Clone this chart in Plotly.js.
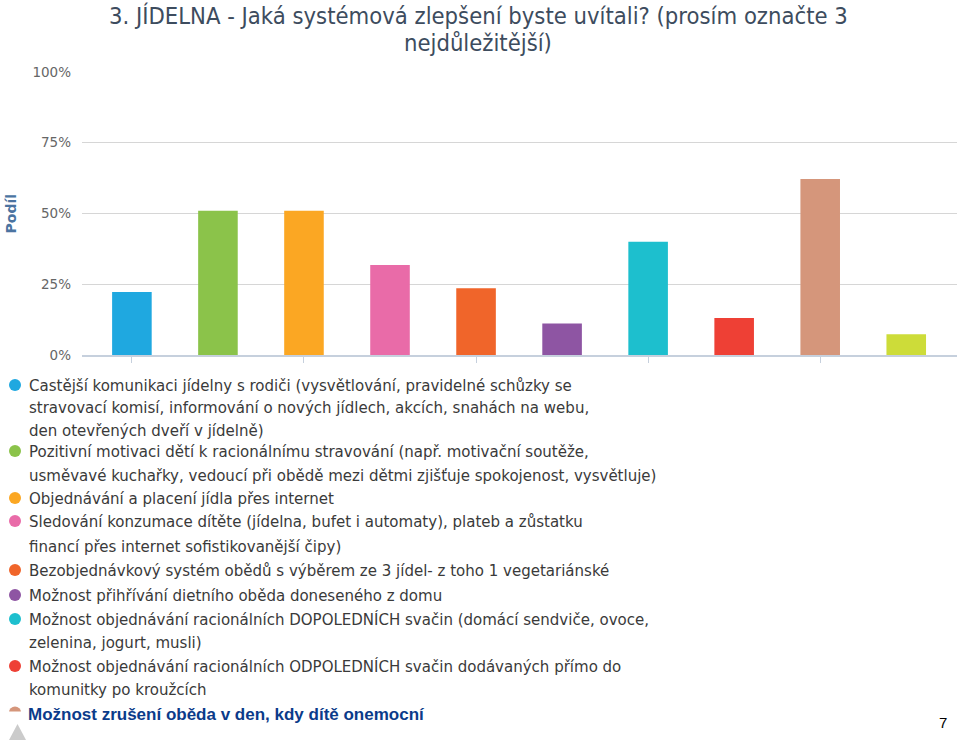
<!DOCTYPE html>
<html>
<head>
<meta charset="utf-8">
<script src="https://cdn.plot.ly/plotly-3.0.1.min.js"></script>
<style>
  html, body { margin: 0; padding: 0; background: #fff; }
  #chart { width: 959px; height: 742px; }
</style>
</head>
<body>
<div id="chart"></div>
<script>
// ---- data ----
const titleLines = [
  "3. JÍDELNA - Jaká systémová zlepšení byste uvítali? (prosím označte 3",
  "nejdůležitější)"
];
const yAxisTitle = "Podíl";
const categoryLines = [
  ["Castější komunikaci jídelny s rodiči (vysvětlování, pravidelné schůzky se",
   "stravovací komisí, informování o nových jídlech, akcích, snahách na webu,",
   "den otevřených dveří v jídelně)"],
  ["Pozitivní motivaci dětí k racionálnímu stravování (např. motivační soutěže,",
   "usměvavé kuchařky, vedoucí při obědě mezi dětmi zjišťuje spokojenost, vysvětluje)"],
  ["Objednávání a placení jídla přes internet"],
  ["Sledování konzumace dítěte (jídelna, bufet i automaty), plateb a zůstatku",
   "financí přes internet sofistikovanější čipy)"],
  ["Bezobjednávkový systém obědů s výběrem ze 3 jídel- z toho 1 vegetariánské"],
  ["Možnost přihřívání dietního oběda doneseného z domu"],
  ["Možnost objednávání racionálních DOPOLEDNÍCH svačin (domácí sendviče, ovoce,",
   "zelenina, jogurt, musli)"],
  ["Možnost objednávání racionálních ODPOLEDNÍCH svačin dodávaných přímo do",
   "komunitky po kroužcích"],
  ["Možnost zrušení oběda v den, kdy dítě onemocní"],
  ["Jiné"]
];
const categories = categoryLines.map(l => l.join(" "));
const shares = [22.3, 51.0, 51.0, 31.8, 23.6, 11.1, 40.0, 13.1, 62.2, 7.3];
const colors = ["#1fa8e0", "#8bc34a", "#fba723", "#e96ba8", "#f0652a",
                "#8e55a3", "#1dbfce", "#ee4035", "#d5967b", "#cddc39"];
const yTicks = [0, 25, 50, 75, 100];
const yTickText = yTicks.map(v => v + "%");
const slideNumber = "7";

// ---- layout helpers (pixel -> paper) ----
const W = 959, H = 742;
const M = { l: 82, r: 2, t: 72, b: 387 };
const PW = W - M.l - M.r, PH = H - M.t - M.b;
const xp = px => (px - M.l) / PW;
const yp = py => (H - M.b - py) / PH;

// legend line centres (px) for the visible legend items
const legendLineY = [385, 407, 430, 451, 475, 498, 521, 546, 570, 595, 619, 642, 666, 689];
const visibleLegendItems = 8;

const annotations = [];
const shapes = [];

// title
const titleY = [16, 43];
titleLines.forEach((t, i) => annotations.push({
  text: t, xref: "paper", yref: "paper", x: xp(478), y: yp(titleY[i]),
  xanchor: "center", yanchor: "middle", showarrow: false,
  font: { family: "DejaVu Sans Condensed, DejaVu Sans", size: 23.6, color: "#3d4c5e" }
}));

// y axis title
annotations.push({
  text: "<b>" + yAxisTitle + "</b>", xref: "paper", yref: "paper",
  x: xp(10), y: 0.5, textangle: -90, xanchor: "center", yanchor: "middle",
  showarrow: false, font: { family: "DejaVu Sans", size: 14, color: "#4b74a1" }
});

// legend
let li = 0;
for (let k = 0; k < visibleLegendItems; k++) {
  const c0 = legendLineY[li];
  shapes.push({
    type: "circle", xref: "paper", yref: "paper",
    x0: xp(9), x1: xp(21), y0: yp(c0 + 6), y1: yp(c0 - 6),
    fillcolor: colors[k], line: { width: 0 }
  });
  categoryLines[k].forEach(line => {
    annotations.push({
      text: line, xref: "paper", yref: "paper", x: xp(27), y: yp(legendLineY[li]),
      xanchor: "left", yanchor: "middle", showarrow: false,
      font: { family: "DejaVu Sans Condensed, Open Sans", size: 16.7, color: "#3a3a3a" }
    });
    li++;
  });
}
// partially hidden 9th legend marker
shapes.push({
  type: "circle", xref: "paper", yref: "paper",
  x0: xp(9), x1: xp(21), y0: yp(718), y1: yp(706.5),
  fillcolor: colors[8], line: { width: 0 }
});
shapes.push({
  type: "rect", xref: "paper", yref: "paper",
  x0: xp(6), x1: xp(24), y0: yp(722), y1: yp(711.5),
  fillcolor: "#ffffff", line: { width: 0 }
});
// legend scroll arrow
shapes.push({
  type: "path", xref: "paper", yref: "paper",
  path: `M ${xp(9)} ${yp(740)} L ${xp(26)} ${yp(740)} L ${xp(17.5)} ${yp(724)} Z`,
  fillcolor: "#cbcbcb", line: { width: 0 }
});
// slide overlay text
annotations.push({
  text: "<b>" + categories[8] + "</b>", xref: "paper", yref: "paper",
  x: xp(26), y: yp(714), xanchor: "left", yanchor: "middle", showarrow: false,
  font: { family: "Liberation Sans, Arial", size: 17, color: "#0b3b8a" }
});
annotations.push({
  text: slideNumber, xref: "paper", yref: "paper",
  x: xp(943), y: yp(722), xanchor: "center", yanchor: "middle", showarrow: false,
  font: { family: "Liberation Sans, Arial", size: 15, color: "#000000" }
});

const trace = {
  type: "bar",
  x: categories,
  y: shares,
  width: 0.46,
  marker: { color: colors, line: { width: 0 } },
  hoverinfo: "skip",
  showlegend: false
};

const layout = {
  width: W, height: H,
  margin: M,
  paper_bgcolor: "#ffffff", plot_bgcolor: "#ffffff",
  showlegend: false,
  xaxis: {
    type: "category",
    range: [-0.58, 9.59],
    showgrid: false, zeroline: false,
    showline: true, linecolor: "#c6d0dd", linewidth: 1.5,
    ticks: "outside", ticklen: 6, tickcolor: "#c6d0dd", tickwidth: 1,
    tickvals: [categories[0], categories[2], categories[4], categories[6], categories[8]],
    showticklabels: false, fixedrange: true
  },
  yaxis: {
    range: [0, 100],
    tickvals: yTicks, ticktext: yTickText,
    showgrid: true, gridcolor: "#d6d6d6", gridwidth: 1.3,
    zeroline: false, showline: false, ticks: "",
    ticklabelstandoff: 10,
    tickfont: { family: "DejaVu Sans", size: 13.5, color: "#666666" },
    fixedrange: true
  },
  annotations: annotations,
  shapes: shapes
};

Plotly.newPlot("chart", [trace], layout, { displayModeBar: false, staticPlot: true });
</script>
</body>
</html>
